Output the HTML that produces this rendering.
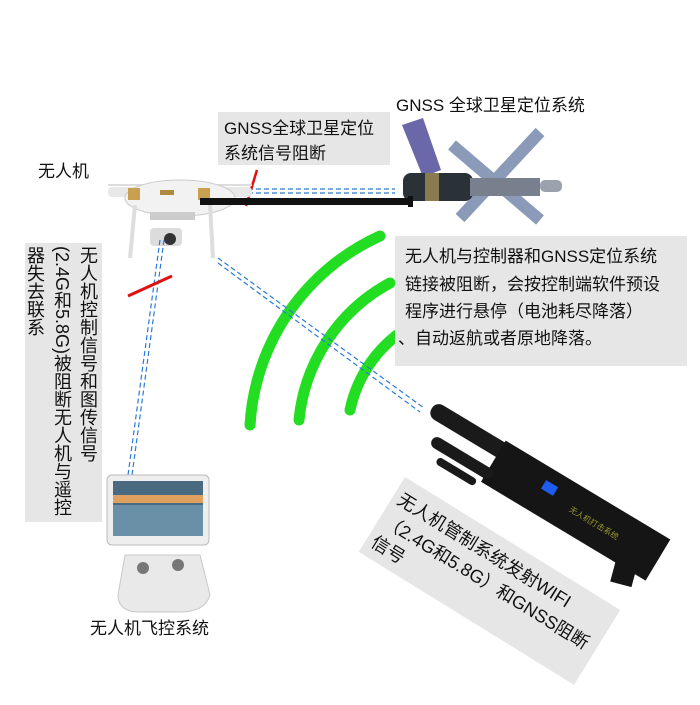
<!DOCTYPE html>
<html><head><meta charset="utf-8"><style>
html,body{margin:0;padding:0;background:#fff;}
svg text{font-family:"Liberation Sans","Noto Sans CJK SC",sans-serif;fill:#111;}
</style></head><body>
<svg width="700" height="700" viewBox="0 0 700 700" xmlns="http://www.w3.org/2000/svg">
<rect width="700" height="700" fill="#fff"/>
<text x="396" y="111" font-size="17">GNSS 全球卫星定位系统</text>
<rect x="218" y="112" width="172" height="53" fill="#e6e6e6"/>
<text x="224" y="134" font-size="17">GNSS全球卫星定位</text>
<text x="224" y="159" font-size="17">系统信号阻断</text>
<text x="38" y="177" font-size="17">无人机</text>

<!-- satellite -->
<g>
<polygon points="402,125 423,118 441,170 423,177" fill="#6a68a8"/>
<line x1="452" y1="145" x2="540" y2="220" stroke="#8a9ab8" stroke-width="12"/>
<line x1="460" y1="218" x2="540" y2="132" stroke="#8a9ab8" stroke-width="12"/>
<rect x="403" y="173" width="70" height="28" rx="8" fill="#2a3238"/>
<rect x="425" y="173" width="14" height="28" fill="#8a7a50"/>
<rect x="470" y="178" width="70" height="18" fill="#77808c"/>
<rect x="540" y="180" width="22" height="12" rx="5" fill="#9aa2ae"/>
</g>

<line x1="232" y1="189" x2="395" y2="189" stroke="#2a7ad8" stroke-width="1.2" stroke-dasharray="5,3"/>
<line x1="232" y1="193" x2="395" y2="193" stroke="#2a7ad8" stroke-width="1.2" stroke-dasharray="5,3"/>
<line x1="257" y1="170" x2="246" y2="206" stroke="#e01010" stroke-width="2.5"/>

<!-- drone -->
<g>
<line x1="108" y1="185" x2="252" y2="185" stroke="#ddd" stroke-width="2"/>
<rect x="108" y="187" width="30" height="10" rx="4" fill="#e8e8e8"/>
<rect x="222" y="187" width="30" height="10" rx="4" fill="#e8e8e8"/>
<ellipse cx="180" cy="198" rx="55" ry="18" fill="#f2f2f2" stroke="#ccc"/>
<rect x="128" y="188" width="12" height="12" fill="#c9a050"/>
<rect x="198" y="188" width="12" height="12" fill="#c9a050"/>
<rect x="160" y="190" width="14" height="5" fill="#b08840"/>
<path d="M135,205 L130,258 M210,205 L213,258" stroke="#ddd" stroke-width="4" fill="none"/>
<rect x="150" y="212" width="45" height="8" fill="#ccc"/>
<rect x="150" y="228" width="32" height="18" rx="4" fill="#dcdcdc"/>
<circle cx="170" cy="239" r="6" fill="#333"/>
</g>

<rect x="200" y="198" width="212" height="7" fill="#111"/>
<rect x="408" y="196" width="5" height="11" fill="#111"/>

<g fill="none" stroke="#22dd22" stroke-width="11" stroke-linecap="round">
<path d="M380,236 A222,222 0 0 0 250,425"/>
<path d="M390,283 A175,175 0 0 0 299,420"/>
<path d="M397,335 A128,128 0 0 0 350,410"/>
</g>

<rect x="395" y="236" width="292" height="130" fill="#e6e6e6"/>
<text x="405" y="262" font-size="17">无人机与控制器和GNSS定位系统</text>
<text x="405" y="290" font-size="17">链接被阻断，会按控制端软件预设</text>
<text x="405" y="317" font-size="17">程序进行悬停（电池耗尽降落）</text>
<text x="398" y="344" font-size="17">、自动返航或者原地降落。</text>

<line x1="218" y1="258" x2="424" y2="408" stroke="#2a7ad8" stroke-width="1.2" stroke-dasharray="5,3"/>
<line x1="218" y1="263" x2="420" y2="412" stroke="#2a7ad8" stroke-width="1.2" stroke-dasharray="5,3"/>
<line x1="160" y1="240" x2="128" y2="475" stroke="#2a7ad8" stroke-width="1.2" stroke-dasharray="5,3"/>
<line x1="164" y1="240" x2="132" y2="475" stroke="#2a7ad8" stroke-width="1.2" stroke-dasharray="5,3"/>
<line x1="128" y1="296" x2="172" y2="276" stroke="#e01010" stroke-width="3"/>

<rect x="25" y="243" width="77" height="279" fill="#e6e6e6"/>
<text font-size="18" style="writing-mode:tb" x="88" y="246">无人机控制信号和图传信号</text>
<text font-size="18" style="writing-mode:tb" x="62" y="246">(2.4G和5.8G)被阻断无人机与遥控</text>
<text font-size="18" style="writing-mode:tb" x="35" y="246">器失去联系</text>

<!-- controller -->
<g>
<rect x="107" y="475" width="102" height="70" rx="5" fill="#eee" stroke="#bbb"/>
<rect x="113" y="481" width="90" height="55" fill="#4a6a80"/>
<rect x="113" y="505" width="90" height="31" fill="#6a90a8"/>
<rect x="113" y="495" width="90" height="8" fill="#e0a060"/>
<path d="M125,555 L200,555 L210,595 Q205,612 180,612 L140,612 Q118,612 118,595 Z" fill="#e9e9e9" stroke="#c8c8c8"/>
<circle cx="143" cy="568" r="6" fill="#777"/>
<circle cx="178" cy="565" r="6" fill="#777"/>
</g>
<text x="90" y="634" font-size="17">无人机飞控系统</text>

<!-- jammer -->
<g transform="translate(432,408) rotate(31)">
<rect x="0" y="-8" width="90" height="17" rx="8" fill="#1a1a1a"/>
<rect x="80" y="-10" width="192" height="48" fill="#151515"/>
<rect x="135" y="3" width="14" height="10" fill="#1e5cf0"/>
<text x="170" y="18" font-size="8" style="fill:#9a9a30">无人机打击系统</text>
</g>
<g transform="translate(432,440) rotate(31)">
<rect x="0" y="-6" width="70" height="12" rx="6" fill="#1a1a1a"/>
</g>
<g transform="translate(437,460) rotate(31)">
<rect x="0" y="-4" width="45" height="8" rx="4" fill="#1a1a1a"/>
</g>
<rect x="615" y="545" width="22" height="40" fill="#151515" transform="rotate(15 626 565)"/>

<!-- rotated gray box -->
<g transform="translate(405,477) rotate(31.7)">
<rect x="0" y="0" width="253" height="88" fill="#e6e6e6"/>
</g>
<g transform="translate(396,503) rotate(31.7)" font-size="18">
<text x="0" y="0">无人机管制系统发射WIFI</text>
<text x="0" y="26">（2.4G和5.8G）和GNSS阻断</text>
<text x="0" y="50">信号</text>
</g>
</svg>
</body></html>
